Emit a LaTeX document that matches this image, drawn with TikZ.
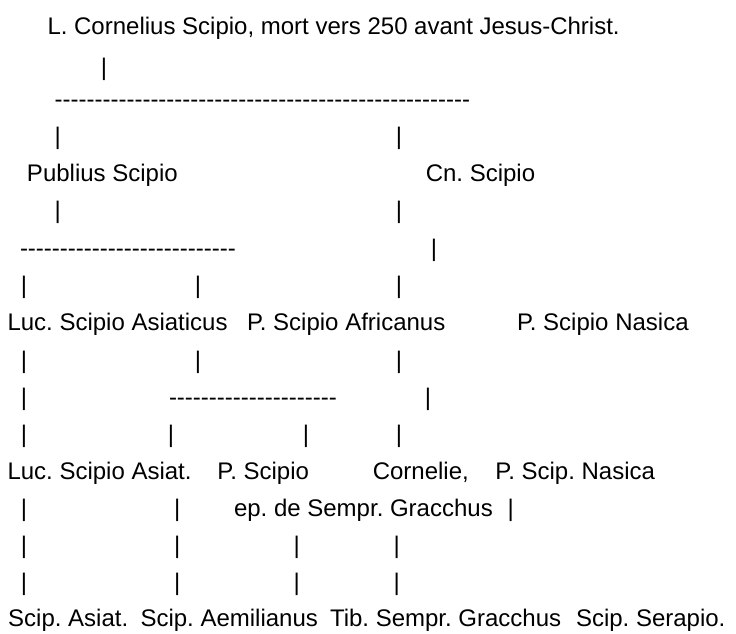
\documentclass[tikz,border=0pt]{standalone}
\usepackage{fontspec}
\setmainfont{Liberation Sans}
\newcount\hycnt
\newcommand\hyrow[1]{\hycnt=0\relax\loop\mbox{-}\advance\hycnt by 1\relax\ifnum\hycnt<#1\repeat}
\begin{document}
\frenchspacing
\begin{tikzpicture}[x=1pt,y=-1pt,
  txt/.style={anchor=base west,inner sep=0pt,outer sep=0pt,font=\fontsize{24}{28}\selectfont\frenchspacing},
  bar/.style={anchor=base,inner sep=0pt,outer sep=0pt,font=\fontsize{24}{28}\selectfont},
  hyline/.style={txt}]
\useasboundingbox[fill=white] (0,0) rectangle (736,634);
% line 1
\node[txt] (root) at (47.5,34.5) {L. Cornelius Scipio, mort vers 250 avant Jesus-Christ.};
% line 2
\node[bar] (b2a) at (104,76) {|};
% line 3
\node[hyline] (h3) at (54.6,107.5) {\hyrow{52}};
% line 4
\node[bar] (b4a) at (57.7,144) {|};
\node[bar] (b4b) at (399,144) {|};
% line 5
\node[txt] (publius) at (27,181.5) {Publius Scipio};
\node[txt] (cn) at (425.8,181.5) {Cn. Scipio};
% line 6
\node[bar] (b6a) at (57.7,218.8) {|};
\node[bar] (b6b) at (399,218.8) {|};
% line 7
\node[hyline] (h7) at (20,256.5) {\hyrow{27}};
\node[bar] (b7a) at (434,256.5) {|};
% line 8
\node[bar] (b8a) at (24,293.5) {|};
\node[bar] (b8b) at (198,293.5) {|};
\node[bar] (b8c) at (399,293.5) {|};
% line 9
\node[txt] (lucasiaticus) at (7.5,330.7) {Luc. Scipio Asiaticus};
\node[txt] (africanus) at (247,330.7) {P. Scipio Africanus};
\node[txt] (nasica) at (517,330.7) {P. Scipio Nasica};
% line 10
\node[bar] (b10a) at (24,368) {|};
\node[bar] (b10b) at (198,368) {|};
\node[bar] (b10c) at (399,368) {|};
% line 11
\node[bar] (b11a) at (24,405.3) {|};
\node[hyline] (h11) at (169,405.3) {\hyrow{21}};
\node[bar] (b11b) at (428,405.3) {|};
% line 12
\node[bar] (b12a) at (24,442.5) {|};
\node[bar] (b12b) at (171,442.5) {|};
\node[bar] (b12c) at (306,442.5) {|};
\node[bar] (b12d) at (399,442.5) {|};
% line 13
\node[txt] (lucasiat) at (7.5,479.7) {Luc. Scipio Asiat.};
\node[txt] (pscipio) at (217.4,479.7) {P. Scipio};
\node[txt] (cornelie) at (372.8,479.7) {Cornelie,};
\node[txt] (scipnasica) at (495.4,479.7) {P. Scip. Nasica};
% line 14
\node[bar] (b14a) at (24,516.4) {|};
\node[bar] (b14b) at (177.3,516.4) {|};
\node[txt] (ep) at (234,516.4) {ep. de Sempr. Gracchus};
\node[bar] (b14c) at (510.7,516.4) {|};
% line 15
\node[bar] (b15a) at (24,553.2) {|};
\node[bar] (b15b) at (177.3,553.2) {|};
\node[bar] (b15c) at (296.7,553.2) {|};
\node[bar] (b15d) at (396.7,553.2) {|};
% line 16
\node[bar] (b16a) at (24,590) {|};
\node[bar] (b16b) at (177.3,590) {|};
\node[bar] (b16c) at (296.7,590) {|};
\node[bar] (b16d) at (396.7,590) {|};
% line 17
\node[txt] (scipasiat) at (8.2,626.7) {Scip. Asiat.};
\node[txt] (aemilianus) at (140.5,626.7) {Scip. Aemilianus};
\node[txt] (tib) at (330,626.7) {Tib. Sempr. Gracchus};
\node[txt] (serapio) at (576,626.7) {Scip. Serapio.};
\end{tikzpicture}
\end{document}
